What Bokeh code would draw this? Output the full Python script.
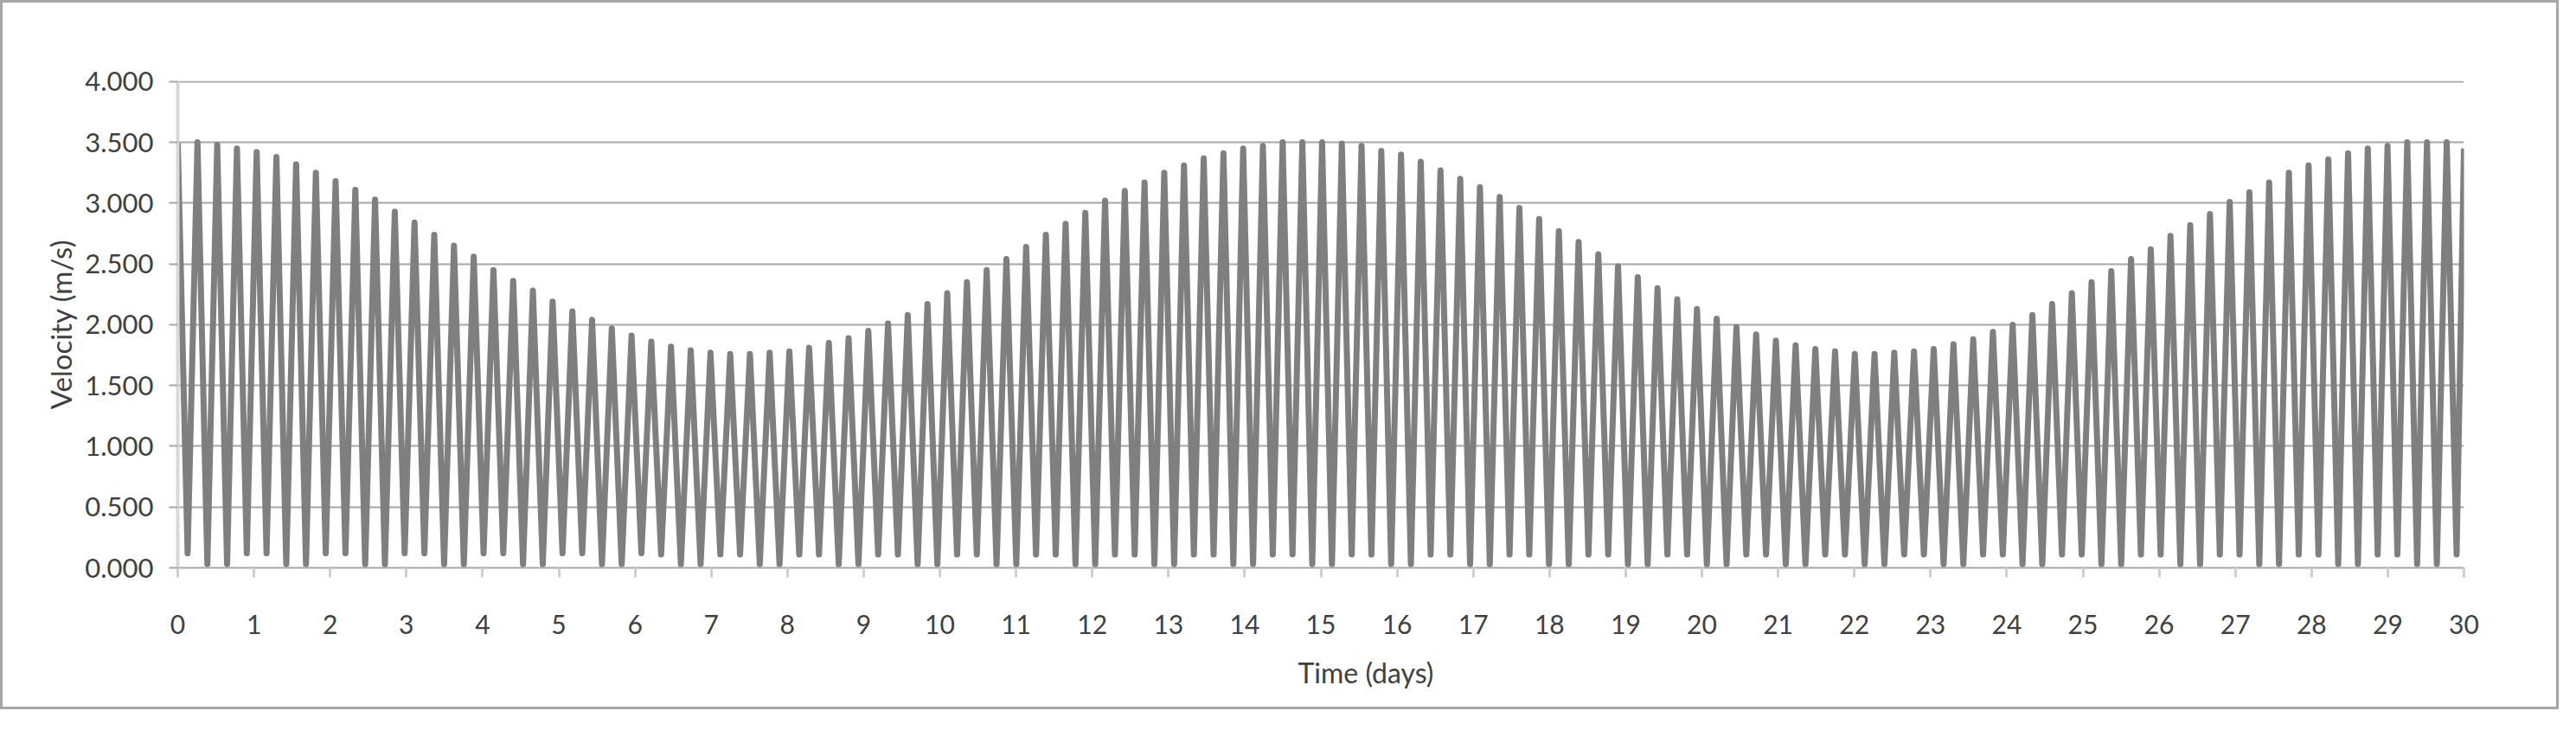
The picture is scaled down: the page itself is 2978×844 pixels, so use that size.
import numpy as np
from bokeh.plotting import figure
from bokeh.layouts import column
from bokeh.models import FixedTicker, PrintfTickFormatter, Title, Range1d
from bokeh.embed import file_html
from bokeh.resources import INLINE

# ---- data ----
peak_step_days = 0.2589          # spacing of successive velocity peaks
end_day = 30.0
end_value = 3.45

peak_values = [
    3.50, 3.50, 3.48, 3.45, 3.42, 3.38, 3.32, 3.25, 3.18, 3.11,
    3.03, 2.93, 2.84, 2.74, 2.65, 2.56, 2.45, 2.36, 2.28, 2.19,
    2.11, 2.04, 1.97, 1.91, 1.86, 1.82, 1.79, 1.77, 1.76, 1.76,
    1.77, 1.78, 1.81, 1.85, 1.89, 1.95, 2.01, 2.08, 2.17, 2.26,
    2.35, 2.45, 2.54, 2.64, 2.74, 2.83, 2.92, 3.02, 3.10, 3.17,
    3.25, 3.31, 3.37, 3.41, 3.45, 3.47, 3.50, 3.50, 3.50, 3.49,
    3.47, 3.43, 3.40, 3.34, 3.27, 3.20, 3.13, 3.05, 2.96, 2.87,
    2.77, 2.68, 2.58, 2.48, 2.39, 2.30, 2.21, 2.13, 2.05, 1.98,
    1.92, 1.87, 1.83, 1.80, 1.78, 1.76, 1.76, 1.77, 1.78, 1.80,
    1.84, 1.88, 1.94, 2.00, 2.08, 2.17, 2.26, 2.35, 2.44, 2.54,
    2.62, 2.73, 2.82, 2.91, 3.01, 3.09, 3.17, 3.25, 3.31, 3.36,
    3.41, 3.45, 3.47, 3.50, 3.50, 3.50,
]

trough_values = [
    0.12, 0.03, 0.03, 0.12, 0.12, 0.03, 0.03, 0.12,
    0.12, 0.03, 0.03, 0.12, 0.12, 0.03, 0.03, 0.12,
    0.12, 0.03, 0.03, 0.12, 0.12, 0.03, 0.03, 0.12,
    0.11, 0.03, 0.03, 0.11, 0.11, 0.03, 0.03, 0.11,
    0.11, 0.03, 0.03, 0.11, 0.11, 0.03, 0.03, 0.11,
    0.11, 0.03, 0.03, 0.11, 0.11, 0.03, 0.03, 0.11,
    0.11, 0.03, 0.03, 0.11, 0.11, 0.03, 0.03, 0.11,
    0.11, 0.03, 0.03, 0.11, 0.11, 0.03, 0.03, 0.11,
    0.11, 0.03, 0.03, 0.11, 0.11, 0.03, 0.03, 0.11,
    0.11, 0.03, 0.03, 0.11, 0.11, 0.03, 0.03, 0.11,
    0.11, 0.03, 0.03, 0.11, 0.11, 0.03, 0.03, 0.11,
    0.11, 0.03, 0.03, 0.11, 0.11, 0.03, 0.03, 0.11,
    0.11, 0.03, 0.03, 0.11, 0.11, 0.03, 0.03, 0.11,
    0.11, 0.03, 0.03, 0.11, 0.11, 0.03, 0.03, 0.11,
    0.11, 0.03, 0.03, 0.11,
]

x_ticks = list(range(0, 31))
y_ticks = [0.0, 0.5, 1.0, 1.5, 2.0, 2.5, 3.0, 3.5, 4.0]
x_title = "Time (days)"
y_title = "Velocity (m/s)"

# ---- build the series: peak, trough, peak, trough, ... ----
n = len(peak_values)
peak_days = np.arange(n) * peak_step_days
trough_days = (np.arange(len(trough_values)) + 0.5) * peak_step_days
xs, ys = [], []
for i in range(n):
    xs.append(peak_days[i]); ys.append(peak_values[i])
    if i < len(trough_values):
        xs.append(trough_days[i]); ys.append(trough_values[i])
xs.append(end_day); ys.append(end_value)

# ---- figure ----
W, H = 2952, 814
p = figure(width=W, height=H, output_backend="svg", toolbar_location=None,
           x_range=Range1d(0, 30), y_range=Range1d(0, 4.006),
           min_border_left=202, min_border_right=W - 2845,
           min_border_top=90, min_border_bottom=161)
p.outline_line_color = None
p.background_fill_color = "white"
p.border_fill_color = "white"

p.xgrid.visible = False
p.ygrid.ticker = FixedTicker(ticks=y_ticks)
p.ygrid.grid_line_color = "#a6a6a6"
p.ygrid.grid_line_width = 2

p.line(xs, ys, line_color="#7f7f7f", line_width=7, line_join="round")

# axes
p.xaxis.ticker = FixedTicker(ticks=x_ticks)
p.xaxis.minor_tick_line_color = None
p.xaxis.axis_line_color = "#a6a6a6"
p.xaxis.axis_line_width = 2
p.xaxis.major_tick_line_color = "#cfcfcf"
p.xaxis.major_tick_line_width = 3
p.xaxis.major_tick_out = 11
p.xaxis.major_tick_in = 0
p.xaxis.major_label_text_font = "Lato"
p.xaxis.major_label_text_font_size = "30px"
p.xaxis.major_label_text_color = "#404040"
p.xaxis.major_label_standoff = 43

p.yaxis.ticker = FixedTicker(ticks=y_ticks)
p.yaxis.formatter = PrintfTickFormatter(format="%.3f")
p.yaxis.minor_tick_line_color = None
p.yaxis.axis_line_color = "#d9d9d9"
p.yaxis.axis_line_width = 4
p.yaxis.major_tick_line_color = "#a6a6a6"
p.yaxis.major_tick_line_width = 2
p.yaxis.major_tick_out = 10
p.yaxis.major_tick_in = 0
p.yaxis.major_label_text_font = "Lato"
p.yaxis.major_label_text_font_size = "31px"
p.yaxis.major_label_text_color = "#404040"
p.yaxis.major_label_standoff = 18

# axis titles
p.add_layout(Title(text=x_title, align="left", offset=1295, standoff=41,
                   text_font="Lato", text_font_size="32px",
                   text_font_style="normal", text_color="#404040"), "below")
p.add_layout(Title(text=y_title, align="center", standoff=11,
                   text_font="Lato", text_font_size="33px",
                   text_font_style="normal", text_color="#404040"), "left")

layout = column(p, styles={"border": "3px solid #a6a6a6"})
open("out.html", "w").write(file_html(layout, INLINE))
